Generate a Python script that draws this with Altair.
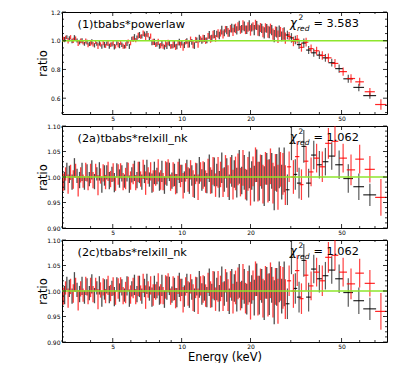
import altair as alt
import pandas as pd

# ---------------- data ----------------
# bin energies of the densely binned part of the spectrum (keV), black (FPMA) and red (FPMB)
E_DENSE_BLACK = [
    3.00, 3.08, 3.15, 3.23, 3.32, 3.40, 3.49, 3.58, 3.67, 3.76,
    3.86, 3.95, 4.05, 4.16, 4.26, 4.37, 4.48, 4.60, 4.71, 4.83,
    4.96, 5.08, 5.21, 5.35, 5.48, 5.62, 5.77, 5.91, 6.06, 6.22,
    6.38, 6.54, 6.70, 6.88, 7.05, 7.23, 7.42, 7.60, 7.80, 8.00,
    8.20, 8.41, 8.62, 8.84, 9.07, 9.30, 9.53, 9.77, 10.02, 10.28,
    10.54, 10.81, 11.08, 11.37, 11.65, 11.95, 12.26, 12.57, 12.89, 13.21,
    13.55, 13.89, 14.25, 14.61, 14.98, 15.36, 15.75, 16.15, 16.56, 16.99,
    17.42, 17.86, 18.31, 18.78, 19.26, 19.75, 20.25, 20.77, 21.29, 21.84,
    22.39, 22.96, 23.55, 24.15, 24.76, 25.39, 26.04, 26.70, 27.38, 28.07,
]
E_DENSE_RED = [
    3.04, 3.11, 3.19, 3.27, 3.36, 3.44, 3.53, 3.62, 3.71, 3.81,
    3.90, 4.00, 4.10, 4.21, 4.31, 4.42, 4.54, 4.65, 4.77, 4.89,
    5.02, 5.14, 5.28, 5.41, 5.55, 5.69, 5.84, 5.98, 6.14, 6.30,
    6.46, 6.62, 6.79, 6.96, 7.14, 7.32, 7.51, 7.70, 7.90, 8.10,
    8.30, 8.51, 8.73, 8.95, 9.18, 9.41, 9.65, 9.89, 10.15, 10.41,
    10.67, 10.94, 11.22, 11.51, 11.80, 12.10, 12.41, 12.73, 13.05, 13.38,
    13.72, 14.07, 14.43, 14.79, 15.17, 15.55, 15.95, 16.35, 16.77, 17.20,
    17.64, 18.08, 18.54, 19.02, 19.50, 20.00, 20.51, 21.03, 21.56, 22.11,
    22.67, 23.25, 23.85, 24.45, 25.07, 25.71, 26.37, 27.04, 27.72, 28.40,
]
# panel (1) ratios x1000
P1_BLACK = [
    1032, 1008, 1025, 1014, 998, 1020, 1002, 990, 1000, 978,
    990, 978, 992, 968, 978, 984, 960, 972, 980, 962,
    974, 958, 982, 966, 972, 958, 982, 960, 1012, 1026,
    1020, 1040, 1030, 1046, 1048, 1014, 988, 992, 976, 962,
    982, 955, 966, 980, 962, 976, 960, 990, 984, 970,
    998, 978, 992, 966, 1004, 1016, 1000, 1016, 1002, 1040,
    1018, 1046, 1048, 1036, 1074, 1056, 1074, 1052, 1088, 1086,
    1072, 1106, 1082, 1100, 1076, 1106, 1092, 1074, 1106, 1070,
    1086, 1054, 1086, 1058, 1074, 1032, 1060, 1066, 1030, 1050,
]
P1_RED = [
    1010, 1022, 1000, 1024, 1002, 1016, 984, 1000, 986, 998,
    968, 984, 976, 990, 962, 974, 986, 964, 982, 972,
    984, 960, 974, 986, 962, 968, 994, 986, 1012, 1004,
    1036, 1028, 1052, 1028, 1038, 1032, 992, 972, 992, 966,
    962, 978, 988, 960, 972, 956, 986, 972, 956, 992,
    976, 1010, 974, 1006, 976, 1012, 1014, 1000, 1034, 1012,
    1042, 1016, 1050, 1054, 1044, 1080, 1058, 1084, 1062, 1086,
    1098, 1076, 1108, 1076, 1096, 1072, 1100, 1112, 1074, 1092,
    1062, 1090, 1062, 1084, 1046, 1064, 1028, 1062, 1048, 1018,
]
# panels (2a) and (2c) ratios x1000 (identical fits)
P2_BLACK = [
    1012, 992, 1015, 1005, 990, 1018, 1002, 994, 1010, 988,
    1008, 996, 1014, 991, 1006, 1011, 985, 1003, 1009, 993,
    1005, 989, 1013, 997, 1007, 992, 1010, 986, 1004, 1012,
    994, 1009, 990, 1006, 1014, 995, 988, 1008, 1002, 991,
    1011, 984, 1006, 1010, 993, 1004, 987, 1012, 1007, 990,
    1015, 992, 1003, 982, 1009, 1013, 994, 1005, 988, 1017,
    991, 1010, 1004, 986, 1018, 995, 1008, 980, 1012, 1006,
    989, 1020, 993, 1009, 984, 1014, 1003, 987, 1022, 992,
    1010, 982, 1016, 994, 1012, 978, 1008, 1018, 990, 1014,
]
P2_RED = [
    990, 1006, 986, 1009, 995, 1012, 982, 1004, 992, 1010,
    988, 1007, 994, 1013, 984, 1002, 1008, 990, 1011, 996,
    1009, 987, 1005, 1012, 991, 997, 1014, 993, 1006, 989,
    1010, 996, 1015, 988, 1003, 1011, 992, 998, 1013, 994,
    991, 1008, 1016, 989, 1005, 986, 1012, 1002, 983, 1009,
    995, 1014, 987, 1007, 980, 1010, 1004, 991, 1016, 993,
    1012, 984, 1009, 1005, 989, 1020, 992, 1013, 985, 1007,
    1015, 990, 1018, 986, 1006, 981, 1011, 1024, 991, 1013,
    986, 1017, 992, 1021, 988, 1009, 980, 1015, 1006, 984,
]
# 1-sigma errors x1000 of the dense bins
ERR_DENSE_BLACK = [
    14, 18, 13, 17, 15, 19, 14, 16, 18, 13,
    17, 14, 19, 15, 13, 18, 16, 20, 14, 17,
    15, 19, 14, 18, 16, 13, 19, 17, 15, 20,
    16, 21, 15, 18, 20, 14, 19, 22, 16, 18,
    21, 17, 23, 18, 16, 22, 19, 24, 17, 21,
    19, 25, 20, 23, 18, 26, 21, 24, 20, 27,
    23, 28, 22, 26, 30, 24, 29, 25, 31, 27,
    29, 33, 27, 34, 30, 36, 28, 35, 32, 38,
    33, 39, 31, 41, 35, 43, 37, 40, 34, 44,
]
ERR_DENSE_RED = [
    17, 13, 19, 15, 18, 14, 20, 15, 13, 18,
    14, 19, 16, 13, 20, 15, 17, 14, 19, 16,
    18, 14, 20, 15, 17, 21, 14, 18, 20, 15,
    20, 15, 19, 23, 16, 18, 21, 15, 22, 19,
    17, 23, 19, 16, 24, 20, 18, 22, 25, 18,
    24, 19, 26, 21, 25, 19, 27, 22, 20, 26,
    27, 23, 30, 25, 28, 23, 31, 26, 29, 33,
    31, 28, 35, 30, 33, 37, 29, 34, 39, 31,
    38, 32, 42, 35, 40, 36, 44, 34, 41, 39,
]

# sparse high-energy bins: centre, half width (keV), ratios x1000, errors x1000
E_HI_BLACK = [29.0, 30.2, 31.4, 32.6, 34.2, 35.9, 37.8, 40.0, 42.5, 45.3, 48.8, 53.5, 59.5, 66.5]
W_HI_BLACK = [0.6, 0.6, 0.6, 0.7, 0.8, 0.9, 1.0, 1.1, 1.3, 1.5, 1.9, 2.6, 3.2, 4.3]
P1_HI_BLACK = [1040, 1020, 1005, 973, 984, 935, 916, 900, 881, 847, 806, 735, 675, 618]
P2_HI_BLACK = [975, 1066, 1005, 988, 1060, 988, 1043, 1024, 1030, 1041, 1024, 997, 981, 965]
ERR_HI_BLACK = [30, 33, 30, 30, 32, 28, 28, 27, 27, 27, 28, 28, 26, 22]

E_HI_RED = [29.5, 30.8, 32.0, 33.4, 35.0, 36.8, 38.9, 41.2, 43.8, 46.8, 50.8, 55.0, 60.0, 66.5, 74.3]
W_HI_RED = [0.6, 0.6, 0.7, 0.7, 0.8, 0.9, 1.1, 1.2, 1.4, 1.6, 2.0, 2.3, 2.6, 3.4, 4.2]
P1_HI_RED = [1030, 995, 1010, 954, 990, 945, 930, 897, 881, 842, 785, 737, 714, 645, 556]
P2_HI_RED = [1020, 1000, 1040, 985, 1031, 1010, 1037, 1020, 1066, 1070, 1037, 1014, 1035, 1015, 960]
ERR_HI_RED = [30, 33, 30, 30, 30, 28, 28, 30, 30, 30, 28, 30, 28, 26, 36]

PANEL_LABELS = ["(1)tbabs*powerlaw", "(2a)tbabs*relxill_nk", "(2c)tbabs*relxill_nk"]
CHI2 = ["3.583", "1.062", "1.062"]

X_DOMAIN = [3, 79]
X_MAJOR = [5, 10, 20, 50]
X_MINOR = [3, 4, 6, 7, 8, 9, 30, 40, 60, 70]
Y1_DOMAIN = [0.49, 1.2]
Y1_MAJOR = [0.6, 0.8, 1.0, 1.2]
Y1_MINOR = [0.5, 0.55, 0.65, 0.7, 0.75, 0.85, 0.9, 0.95, 1.05, 1.1, 1.15]
Y2_DOMAIN = [0.9, 1.1]
Y2_MAJOR = [0.90, 0.95, 1.00, 1.05, 1.10]
Y2_MINOR = [0.91, 0.92, 0.93, 0.94, 0.96, 0.97, 0.98, 0.99,
            1.01, 1.02, 1.03, 1.04, 1.06, 1.07, 1.08, 1.09]

# ---------------- style ----------------
W = 325
H = 102
GREEN = "#8ee62c"
FONT = "DejaVu Sans"


def dense_df(E, vals, errs):
    return pd.DataFrame({
        "E": E,
        "lo": [(v - e) / 1000 for v, e in zip(vals, errs)],
        "hi": [(v + e) / 1000 for v, e in zip(vals, errs)],
    })


def sparse_df(E, Wd, vals, errs):
    return pd.DataFrame({
        "E": E,
        "Elo": [e - w for e, w in zip(E, Wd)],
        "Ehi": [e + w for e, w in zip(E, Wd)],
        "r": [v / 1000 for v in vals],
        "lo": [(v - s) / 1000 for v, s in zip(vals, errs)],
        "hi": [(v + s) / 1000 for v, s in zip(vals, errs)],
    })


def panel(idx, dense_b, dense_r, hi_b, hi_r, ydom, ymaj, ymin, yfmt, last):
    xs = alt.Scale(type="log", domain=X_DOMAIN, nice=False)
    ys = alt.Scale(domain=ydom, nice=False, zero=False)
    xaxis = alt.Axis(values=X_MAJOR, format="d", labelFontSize=6, labelPadding=1.5,
                     ticks=False, tickSize=0, domain=False, grid=False, labelFont=FONT,
                     minExtent=0, maxExtent=8,
                     titleFont=FONT, titleFontSize=11.5, titleFontWeight="normal",
                     titlePadding=1.5, labelColor="black", titleColor="black")
    yaxis = alt.Axis(values=ymaj, format=yfmt, labelFontSize=6, labelPadding=2,
                     ticks=False, tickSize=0, domain=False, grid=False, labelFont=FONT,
                     titleFont=FONT, titleFontSize=11.5, titleFontWeight="normal",
                     titleX=-15.5, titleY=H / 2, titleAngle=270, titleBaseline="alphabetic",
                     titleAlign="center", labelColor="black", titleColor="black")
    xtitle = "Energy (keV)" if last else None

    def X(field):
        return alt.X(field, scale=xs, axis=xaxis, title=xtitle)

    def Y(field):
        return alt.Y(field, scale=ys, axis=yaxis, title="ratio")

    def bar_layer(df, color, op, sw):
        return alt.Chart(df).mark_rule(color=color, opacity=op, strokeWidth=sw, clip=True).encode(
            x=X("E:Q"), y=Y("lo:Q"), y2="hi:Q")

    def hbar_layer(df, color, op):
        return alt.Chart(df).mark_rule(color=color, opacity=op, strokeWidth=1.2, clip=True).encode(
            x=X("Elo:Q"), x2="Ehi:Q", y=Y("r:Q"))

    layers = [
        bar_layer(dense_df(E_DENSE_BLACK, dense_b, ERR_DENSE_BLACK), "black", 0.7, 1.3),
        bar_layer(sparse_df(*hi_b), "black", 0.65, 1.2),
        hbar_layer(sparse_df(*hi_b), "black", 0.85),
        bar_layer(dense_df(E_DENSE_RED, dense_r, ERR_DENSE_RED), "#ff0000", 0.75, 1.3),
        bar_layer(sparse_df(*hi_r), "#ff0000", 0.75, 1.2),
        hbar_layer(sparse_df(*hi_r), "#ff0000", 0.85),
    ]
    # model line
    layers.append(alt.Chart(pd.DataFrame({"y": [1.0]})).mark_rule(color=GREEN, strokeWidth=1.6).encode(
        y=Y("y:Q")))

    # inward ticks
    def xticks(vals, L):
        df = pd.DataFrame({"v": vals})
        b = alt.Chart(df).mark_rule(color="black", strokeWidth=0.8).encode(
            x=X("v:Q"), y=alt.value(H), y2=alt.value(H - L))
        t = alt.Chart(df).mark_rule(color="black", strokeWidth=0.8).encode(
            x=X("v:Q"), y=alt.value(0), y2=alt.value(L))
        return [b, t]

    def yticks(vals, L):
        df = pd.DataFrame({"v": vals})
        l = alt.Chart(df).mark_rule(color="black", strokeWidth=0.8).encode(
            y=Y("v:Q"), x=alt.value(0), x2=alt.value(L))
        r = alt.Chart(df).mark_rule(color="black", strokeWidth=0.8).encode(
            y=Y("v:Q"), x=alt.value(W), x2=alt.value(W - L))
        return [l, r]

    layers += xticks(X_MAJOR, 4) + xticks(X_MINOR, 2) + yticks(ymaj, 4) + yticks(ymin, 2)

    # annotations
    tdf = pd.DataFrame({"a": [0]})

    def txt(s, x, y, size, style="normal"):
        return alt.Chart(tdf).mark_text(text=s, align="left", baseline="alphabetic", font=FONT,
                                        fontSize=size, fontStyle=style, color="black").encode(
            x=alt.value(x), y=alt.value(y))

    layers += [
        txt(PANEL_LABELS[idx], 15.5, 15.8, 11.3),
        txt("\u03c7", 228.0, 14.6, 11.5, "italic"),
        txt("2", 236.5, 8.2, 7.5),
        txt("red", 235.0, 18.8, 7.5, "italic"),
        txt("= " + CHI2[idx], 251.5, 14.5, 11.3),
    ]
    return alt.layer(*layers).properties(width=W, height=H)


hb1 = (E_HI_BLACK, W_HI_BLACK, P1_HI_BLACK, ERR_HI_BLACK)
hr1 = (E_HI_RED, W_HI_RED, P1_HI_RED, ERR_HI_RED)
hb2 = (E_HI_BLACK, W_HI_BLACK, P2_HI_BLACK, ERR_HI_BLACK)
hr2 = (E_HI_RED, W_HI_RED, P2_HI_RED, ERR_HI_RED)

p1 = panel(0, P1_BLACK, P1_RED, hb1, hr1, Y1_DOMAIN, Y1_MAJOR, Y1_MINOR, ".1f", False)
p2 = panel(1, P2_BLACK, P2_RED, hb2, hr2, Y2_DOMAIN, Y2_MAJOR, Y2_MINOR, ".2f", False)
p3 = panel(2, P2_BLACK, P2_RED, hb2, hr2, Y2_DOMAIN, Y2_MAJOR, Y2_MINOR, ".2f", True)

chart = alt.vconcat(p1, p2, p3, spacing=0).properties(
    padding={"left": 29, "top": 0, "right": 5, "bottom": 0}
).configure(font=FONT).configure_view(stroke="black", strokeWidth=1)

chart.save("out.html", embed_options={"renderer": "svg", "actions": False})
